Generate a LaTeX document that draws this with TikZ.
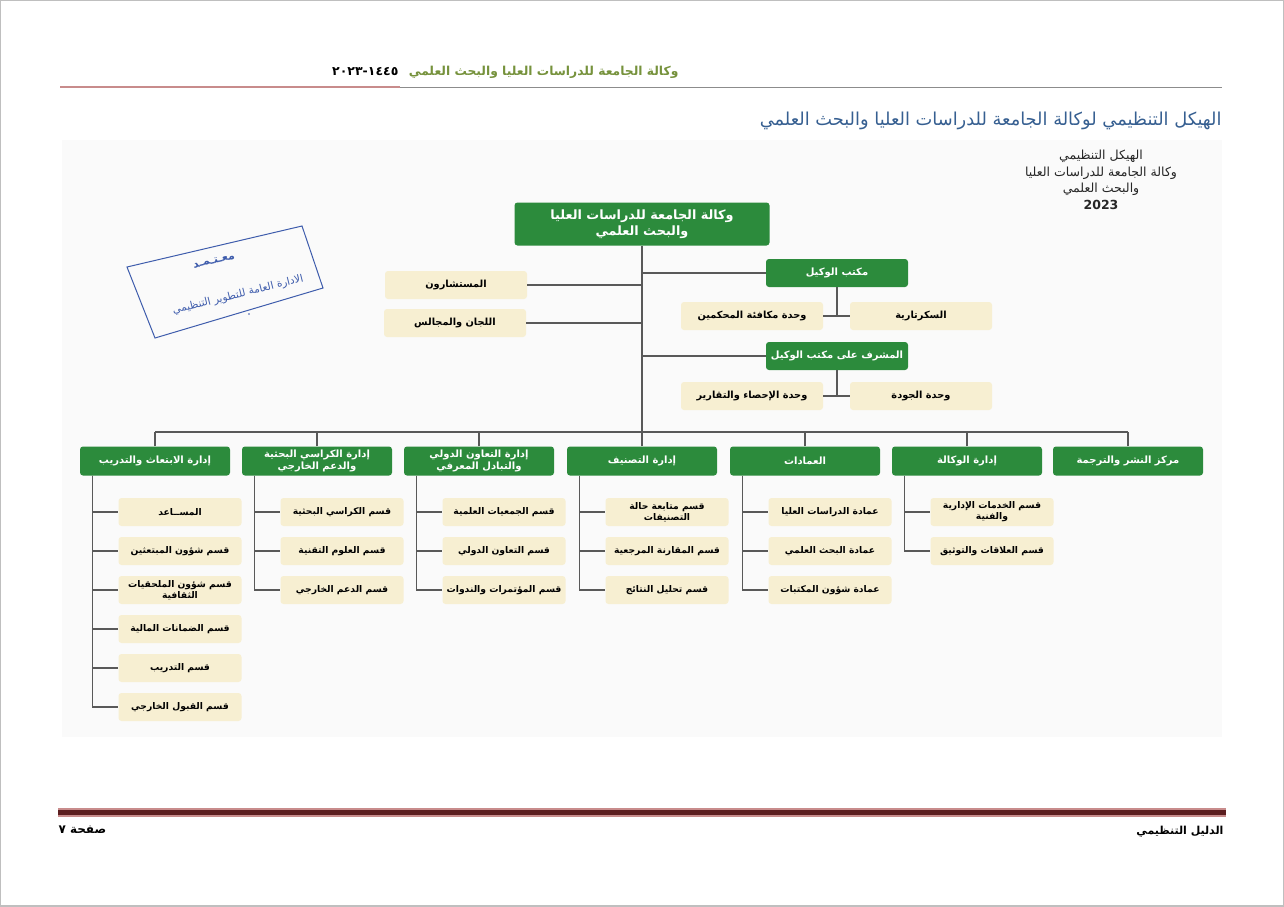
\documentclass[tikz,border=0pt]{standalone}
\usepackage{fontspec}
\newfontfamily\arabicfont[Script=Arabic]{DejaVu Sans}
\TeXXeTstate=1
\newcommand{\ar}[1]{\beginR #1\endR}
\definecolor{orggreen}{RGB}{44,139,60}
\definecolor{orgcream}{RGB}{247,239,210}
\definecolor{hdrolive}{HTML}{76923C}
\definecolor{ttlblue}{HTML}{365F91}
\definecolor{stampblue}{RGB}{62,92,172}
\definecolor{footmaroon}{RGB}{92,30,32}
\definecolor{footpink}{RGB}{200,140,140}
\begin{document}
\begin{tikzpicture}[x=1pt,y=-1pt,
  greenbox/.style={fill=orggreen,rounded corners=3pt,text=white,align=center,inner sep=2pt,
    font=\arabicfont\bfseries\fontsize{10}{11.2}\selectfont},
  creambox/.style={fill=orgcream,rounded corners=3pt,align=center,inner sep=2pt,
    minimum width=123pt,minimum height=28pt,font=\arabicfont\bfseries\fontsize{9.2}{11.2}\selectfont},
  deptbox/.style={greenbox,minimum width=150pt,minimum height=29pt},
  headbox/.style={greenbox,minimum width=142pt,minimum height=28pt},
  sidebox/.style={creambox,minimum width=142pt,font=\arabicfont\bfseries\fontsize{9.8}{12}\selectfont},
  conn/.style={draw=black!65,line width=1.1pt}]
\useasboundingbox (0,0) rectangle (1284,906);
\fill[white] (0,0) rectangle (1284,906);
\draw[black!25,line width=2pt] (0,0) rectangle (1284,906);
\fill[black!2] (62,140) rectangle (1222,737);

\node[anchor=east,text=hdrolive,font=\arabicfont\bfseries\fontsize{12.3}{14}\selectfont] (hdr) at (682,72) {\ar{وكالة الجامعة للدراسات العليا والبحث العلمي}};
\node[anchor=east,font=\arabicfont\bfseries\fontsize{12.5}{14}\selectfont] (hdrdate) at (402,72) {١٤٤٥-٢٠٢٣};
\draw[footpink,line width=1.2pt] (60,87) -- (400,87);
\draw[black!45,line width=1pt] (400,87) -- (1222,87);
\node[anchor=east,text=ttlblue,font=\arabicfont\fontsize{17.8}{20}\selectfont] (title) at (1225,121) {\ar{الهيكل التنظيمي لوكالة الجامعة للدراسات العليا والبحث العلمي}};
\node[align=center,text=black!85,font=\arabicfont\fontsize{12.5}{16.5}\selectfont] (yearlbl) at (1101,180) {\ar{الهيكل التنظيمي}\\\ar{وكالة الجامعة للدراسات العليا}\\\ar{والبحث العلمي}\\\textbf{2023}};

\draw[stampblue,line width=1pt] (127,267) -- (302,226) -- (323,288) -- (155,338) -- cycle;
\node[rotate=13,inner sep=0pt,text=stampblue,font=\arabicfont\bfseries\fontsize{11}{12}\selectfont] (stampa) at (214,261) {\ar{معـتـمـد}};
\node[rotate=14,inner sep=0pt,text=stampblue,font=\arabicfont\fontsize{10.5}{11}\selectfont] (stampb) at (238,295) {\ar{الادارة العامة للتطوير التنظيمي}};
\fill[stampblue] (249,314) circle (0.8);

\node[greenbox,minimum width=255pt,minimum height=43pt,font=\arabicfont\bfseries\fontsize{12.8}{15.5}\selectfont] (vice) at (642,224) {\ar{وكالة الجامعة للدراسات العليا}\\\ar{والبحث العلمي}};
\node[headbox] (office) at (837,273) {\ar{مكتب الوكيل}};
\node[sidebox] (reward) at (752,316) {\ar{وحدة مكافئة المحكمين}};
\node[sidebox] (secr) at (921,316) {\ar{السكرتارية}};
\node[headbox] (superv) at (837,356) {\ar{المشرف على مكتب الوكيل}};
\node[sidebox] (stats) at (752,396) {\ar{وحدة الإحصاء والتقارير}};
\node[sidebox] (quality) at (921,396) {\ar{وحدة الجودة}};
\node[sidebox] (advis) at (456,285) {\ar{المستشارون}};
\node[sidebox] (commit) at (455,323) {\ar{اللجان والمجالس}};

\node[deptbox] (d1) at (155,461) {\ar{إدارة الابتعاث والتدريب}};
\node[deptbox] (d2) at (317,461) {\ar{إدارة الكراسي البحثية}\\\ar{والدعم الخارجي}};
\node[deptbox] (d3) at (479,461) {\ar{إدارة التعاون الدولي}\\\ar{والتبادل المعرفي}};
\node[deptbox] (d4) at (642,461) {\ar{إدارة التصنيف}};
\node[deptbox] (d5) at (805,461) {\ar{العمادات}};
\node[deptbox] (d6) at (967,461) {\ar{إدارة الوكالة}};
\node[deptbox] (d7) at (1128,461) {\ar{مركز النشر والترجمة}};

\coordinate (busl) at (155,432);
\draw[conn] (vice.south) -- (vice.south |- busl);
\draw[conn] (vice.south |- office.west) -- (office.west);
\draw[conn] (vice.south |- superv.west) -- (superv.west);
\draw[conn] (advis.east) -- (advis.east -| vice.south);
\draw[conn] (commit.east) -- (commit.east -| vice.south);
\draw[conn] (office.south) -- (office.south |- secr.west);
\draw[conn] (reward.east) -- (secr.west);
\draw[conn] (superv.south) -- (superv.south |- quality.west);
\draw[conn] (stats.east) -- (quality.west);
\draw[conn] (d1.north |- busl) -- (d7.north |- busl);
\foreach \d in {d1,d2,d3,d4,d5,d6,d7}
  \draw[conn] (\d.north) -- (\d.north |- busl);

\foreach \i/\txt in {1/{\ar{المســاعد}},2/{\ar{قسم شؤون المبتعثين}},3/{\ar{قسم شؤون الملحقيات}\\\ar{الثقافية}},4/{\ar{قسم الضمانات المالية}},5/{\ar{قسم التدريب}},6/{\ar{قسم القبول الخارجي}}}{
  \node[creambox] (ca\i) at (180,473+39*\i) {\txt};
  \draw[conn] ([xshift=13pt]d1.south west) |- (ca\i.west);}
\foreach \i/\txt in {1/{\ar{قسم الكراسي البحثية}},2/{\ar{قسم العلوم التقنية}},3/{\ar{قسم الدعم الخارجي}}}{
  \node[creambox] (cb\i) at (342,473+39*\i) {\txt};
  \draw[conn] ([xshift=13pt]d2.south west) |- (cb\i.west);}
\foreach \i/\txt in {1/{\ar{قسم الجمعيات العلمية}},2/{\ar{قسم التعاون الدولي}},3/{\ar{قسم المؤتمرات والندوات}}}{
  \node[creambox] (cc\i) at (504,473+39*\i) {\txt};
  \draw[conn] ([xshift=13pt]d3.south west) |- (cc\i.west);}
\foreach \i/\txt in {1/{\ar{قسم متابعة حالة}\\\ar{التصنيفات}},2/{\ar{قسم المقارنة المرجعية}},3/{\ar{قسم تحليل النتائج}}}{
  \node[creambox] (cd\i) at (667,473+39*\i) {\txt};
  \draw[conn] ([xshift=13pt]d4.south west) |- (cd\i.west);}
\foreach \i/\txt in {1/{\ar{عمادة الدراسات العليا}},2/{\ar{عمادة البحث العلمي}},3/{\ar{عمادة شؤون المكتبات}}}{
  \node[creambox] (ce\i) at (830,473+39*\i) {\txt};
  \draw[conn] ([xshift=13pt]d5.south west) |- (ce\i.west);}
\foreach \i/\txt in {1/{\ar{قسم الخدمات الإدارية}\\\ar{والفنية}},2/{\ar{قسم العلاقات والتوثيق}}}{
  \node[creambox] (cf\i) at (992,473+39*\i) {\txt};
  \draw[conn] ([xshift=13pt]d6.south west) |- (cf\i.west);}

\draw[footpink,line width=9pt] (58,812) -- (1226,812);
\draw[footmaroon,line width=5pt] (58,812) -- (1226,812);
\node[anchor=east,font=\arabicfont\bfseries\fontsize{11}{12}\selectfont] (guide) at (1227,832) {\ar{الدليل التنظيمي}};
\node[anchor=west,font=\arabicfont\bfseries\fontsize{12}{13}\selectfont] (pageno) at (55,830) {\ar{صفحة ٧}};
\end{tikzpicture}
\end{document}
